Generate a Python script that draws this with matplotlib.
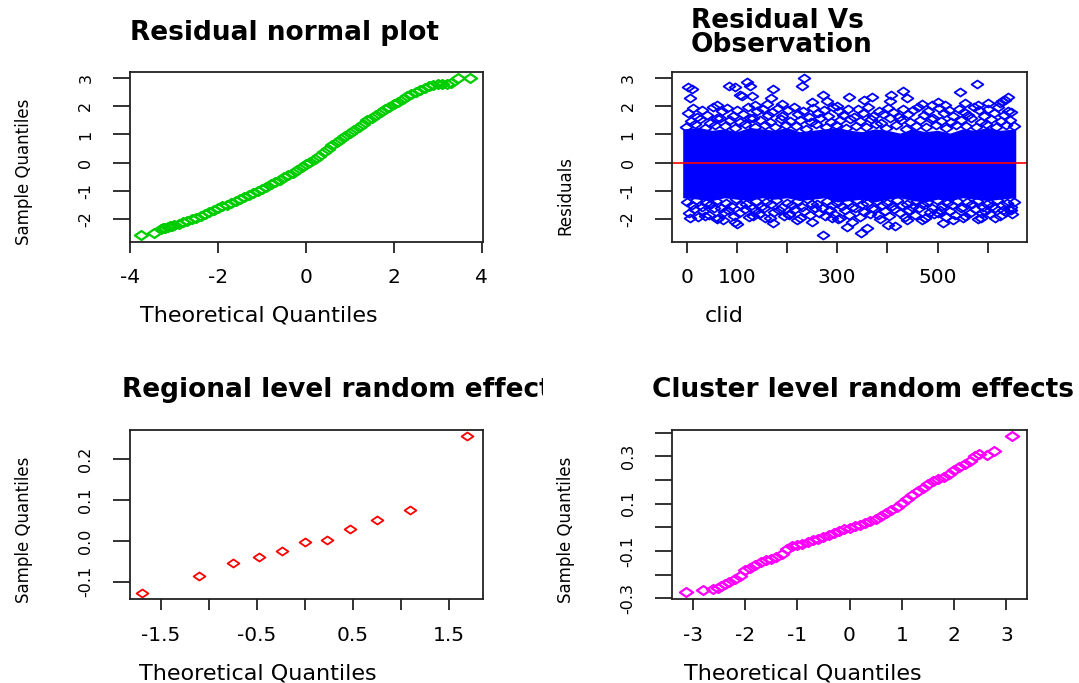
import matplotlib.pyplot as plt
from matplotlib.path import Path
from matplotlib.transforms import Bbox, TransformedBbox

plt.rcParams['font.family'] = 'DejaVu Sans'
plt.rcParams['axes.unicode_minus'] = False

# residual normal plot
q_res = [-3.75, -3.47, -3.30, -3.25, -3.20, -3.15, -3.10, -3.05, -3.00, -2.90, -2.80, -2.70, -2.60, -2.50,
         -2.40, -2.30, -2.20, -2.10, -2.00, -1.90, -1.80, -1.70, -1.60, -1.50, -1.40, -1.30, -1.20, -1.10,
         -1.00, -0.90, -0.80, -0.70, -0.60, -0.50, -0.40, -0.30, -0.20, -0.10, 0.00, 0.10, 0.20, 0.30,
         0.40, 0.50, 0.60, 0.70, 0.80, 0.90, 1.00, 1.10, 1.20, 1.30, 1.40, 1.50, 1.60, 1.70, 1.80, 1.90,
         2.00, 2.10, 2.20, 2.30, 2.40, 2.50, 2.60, 2.70, 2.80, 2.90, 3.00, 3.10, 3.20, 3.30, 3.45, 3.73]
s_res = [-2.56, -2.50, -2.36, -2.34, -2.31, -2.29, -2.26, -2.24, -2.22, -2.17, -2.11, -2.06, -2.00, -1.95,
         -1.89, -1.81, -1.74, -1.68, -1.62, -1.55, -1.49, -1.42, -1.36, -1.29, -1.22, -1.15, -1.09, -1.02,
         -0.94, -0.85, -0.76, -0.68, -0.60, -0.52, -0.44, -0.36, -0.26, -0.16, -0.06, 0.04, 0.13, 0.23,
         0.36, 0.48, 0.61, 0.72, 0.84, 0.95, 1.06, 1.17, 1.28, 1.39, 1.50, 1.60, 1.69, 1.79, 1.89, 1.98,
         2.08, 2.17, 2.26, 2.35, 2.43, 2.52, 2.59, 2.66, 2.71, 2.76, 2.78, 2.80, 2.81, 2.82, 2.99, 2.99]

# residual vs clid: dense core envelope
env_clid = [-8, 25, 50, 75, 100, 125, 150, 175, 200, 225, 250, 275, 300, 325, 350, 375, 400, 425, 450,
            475, 500, 525, 550, 575, 600, 625, 656]
env_hi = [1.20, 1.25, 1.15, 1.20, 1.10, 1.25, 1.20, 1.15, 1.25, 1.10, 1.15, 1.20, 1.25, 1.15, 1.10, 1.20,
          1.15, 1.05, 1.20, 1.10, 1.15, 1.05, 1.20, 1.15, 1.25, 1.15, 1.20]
env_lo = [-1.25, -1.30, -1.35, -1.25, -1.30, -1.35, -1.25, -1.30, -1.25, -1.35, -1.30, -1.25, -1.40, -1.35,
          -1.30, -1.40, -1.30, -1.25, -1.35, -1.40, -1.30, -1.35, -1.25, -1.30, -1.35, -1.30, -1.25]

# upper edge of the cloud
top_clid = [3, 12, 20, 30, 41, 52, 60, 71, 80, 92, 101, 113, 122, 133, 141, 152, 163, 171, 182, 190, 201,
            213, 222, 231, 243, 252, 261, 273, 282, 291, 303, 312, 321, 333, 342, 351, 362, 371, 383, 392,
            401, 411, 423, 432, 441, 452, 461, 473, 482, 491, 502, 513, 522, 531, 543, 552, 561, 572, 583,
            592, 601, 612, 621, 633, 641, 647]
top_res = [1.75, 1.95, 1.62, 1.88, 1.70, 1.98, 1.58, 1.82, 1.93, 1.66, 1.86, 1.72, 1.97, 1.60, 1.84, 1.90,
           1.68, 1.79, 1.95, 1.64, 1.88, 1.99, 1.73, 1.85, 1.62, 1.93, 1.78, 1.87, 1.66, 1.96, 1.83, 1.70,
           1.92, 1.61, 1.89, 1.76, 1.98, 1.67, 1.85, 1.72, 1.94, 1.80, 1.63, 1.91, 1.74, 1.87, 1.97, 1.69,
           1.83, 1.60, 1.95, 1.77, 1.88, 1.65, 1.92, 1.81, 1.71, 1.99, 1.86, 1.64, 1.90, 1.75, 1.96, 1.68,
           1.84, 1.79]
tmid_clid = [8, 27, 46, 66, 86, 106, 127, 147, 166, 187, 206, 226, 247, 266, 287, 306, 326, 346, 367, 387,
             406, 427, 446, 466, 487, 506, 526, 547, 566, 587, 606, 626, 645]
tmid_res = [1.48, 1.55, 1.42, 1.58, 1.50, 1.45, 1.57, 1.52, 1.44, 1.56, 1.49, 1.53, 1.46, 1.58, 1.43, 1.51,
            1.55, 1.47, 1.54, 1.42, 1.57, 1.50, 1.45, 1.53, 1.56, 1.48, 1.44, 1.52, 1.58, 1.46, 1.54, 1.49,
            1.51]
tin_clid = [-2, 17, 37, 56, 76, 96, 117, 137, 157, 177, 197, 217, 237, 257, 277, 297, 317, 337, 357, 377,
            397, 417, 437, 457, 477, 497, 517, 537, 557, 577, 597, 617, 637, 652]
tin_res = [1.28, 1.36, 1.24, 1.33, 1.30, 1.22, 1.38, 1.27, 1.32, 1.25, 1.35, 1.29, 1.21, 1.37, 1.26, 1.34,
           1.23, 1.31, 1.28, 1.36, 1.24, 1.33, 1.20, 1.30, 1.27, 1.35, 1.22, 1.32, 1.29, 1.25, 1.38, 1.26,
           1.34, 1.30]

# lower edge of the cloud
bot_clid = [5, 14, 23, 33, 44, 55, 63, 74, 83, 95, 104, 116, 125, 136, 144, 155, 166, 174, 185, 193, 204,
            216, 225, 234, 246, 255, 264, 276, 285, 294, 306, 315, 324, 336, 345, 354, 365, 374, 386, 395,
            404, 414, 426, 435, 444, 455, 464, 476, 485, 494, 505, 516, 525, 534, 546, 555, 564, 575, 586,
            595, 604, 615, 624, 636, 644, 649]
bot_res = [-1.78, -1.66, -1.92, -1.71, -1.85, -1.62, -1.96, -1.74, -1.68, -1.89, -1.80, -1.65, -1.93, -1.72,
           -1.84, -1.63, -1.98, -1.77, -1.69, -1.90, -1.82, -1.64, -1.95, -1.73, -1.87, -1.61, -1.79, -1.91,
           -1.67, -1.83, -1.97, -1.70, -1.86, -1.62, -1.94, -1.75, -1.81, -1.66, -1.99, -1.72, -1.88, -1.64,
           -1.79, -1.92, -1.68, -1.85, -1.60, -1.96, -1.74, -1.83, -1.67, -1.93, -1.71, -1.87, -1.63, -1.90,
           -1.78, -1.65, -1.97, -1.73, -1.84, -1.61, -1.89, -1.76, -1.69, -1.82]
bmid_clid = [10, 30, 49, 69, 89, 109, 130, 150, 169, 190, 209, 229, 250, 269, 290, 309, 329, 349, 370, 390,
             409, 430, 449, 469, 490, 509, 529, 550, 569, 590, 609, 629, 646]
bmid_res = [-1.52, -1.58, -1.47, -1.61, -1.55, -1.49, -1.60, -1.53, -1.46, -1.59, -1.51, -1.56, -1.48, -1.62,
            -1.50, -1.54, -1.57, -1.47, -1.60, -1.52, -1.55, -1.49, -1.58, -1.46, -1.61, -1.53, -1.50, -1.57,
            -1.48, -1.59, -1.54, -1.51, -1.56]
bin_clid = [0, 19, 39, 58, 78, 99, 119, 139, 159, 179, 199, 219, 239, 259, 279, 299, 319, 339, 359, 379,
            399, 419, 439, 459, 479, 499, 519, 539, 559, 579, 599, 619, 639, 653]
bin_res = [-1.40, -1.33, -1.45, -1.37, -1.42, -1.30, -1.47, -1.36, -1.41, -1.34, -1.44, -1.38, -1.31, -1.46,
           -1.35, -1.43, -1.39, -1.32, -1.45, -1.37, -1.42, -1.34, -1.48, -1.36, -1.40, -1.33, -1.44, -1.38,
           -1.41, -1.35, -1.46, -1.32, -1.43, -1.39]

# single outlying points
out_clid = [2, 10, 7, 84, 97, 121, 111, 131, 136, 106, 126, 172, 169, 234, 229, 272, 279, 323, 353, 369,
            408, 405, 432, 439, 515, 545, 555, 579, 581, 600, 624, 634, 641, 628, 60, 160, 190, 250, 300,
            470, 490, 500,
            7, 36, 73, 97, 100, 133, 156, 172, 203, 249, 272, 289, 319, 347, 359, 402, 415, 470, 475, 511,
            551, 588, 615, 630, 647, 382, 501, 302, 440, 60, 220, 330, 530, 580]
out_res = [2.70, 2.60, 2.30, 2.74, 2.69, 2.85, 2.38, 2.36, 2.06, 2.42, 2.71, 2.62, 2.30, 3.01, 2.74, 2.42,
           2.18, 2.33, 2.24, 2.33, 2.42, 2.18, 2.53, 2.30, 2.06, 2.51, 2.12, 2.78, 2.06, 2.12, 2.12, 2.24,
           2.33, 2.18, 2.05, 2.10, 2.08, 2.15, 2.02, 2.10, 2.05, 2.15,
           -1.97, -1.91, -2.05, -2.12, -2.17, -1.91, -1.97, -2.13, -1.85, -2.10, -2.56, -1.97, -2.29, -2.50,
           -2.32, -2.20, -2.26, -2.03, -1.97, -2.14, -1.97, -1.79, -1.97, -1.67, -1.70, -1.85, -1.79, -2.00,
           -2.05, -2.00, -2.05, -2.10, -2.05, -2.00]

# regional level random effects
q_reg = [-1.69, -1.10, -0.75, -0.47, -0.23, 0.00, 0.23, 0.47, 0.75, 1.10, 1.69]
s_reg = [-0.127, -0.087, -0.055, -0.040, -0.024, -0.002, 0.003, 0.029, 0.051, 0.075, 0.257]

# cluster level random effects
q_cl = [-3.13, -2.81, -2.61, -2.51, -2.45, -2.38, -2.30, -2.20, -2.10, -2.00, -1.90, -1.80, -1.70, -1.60,
        -1.50, -1.40, -1.30, -1.20, -1.10, -1.00, -0.90, -0.80, -0.70, -0.60, -0.50, -0.40, -0.30, -0.20,
        -0.10, 0.00, 0.10, 0.20, 0.30, 0.40, 0.50, 0.60, 0.70, 0.80, 0.90, 1.00, 1.10, 1.20, 1.30, 1.40,
        1.50, 1.60, 1.70, 1.80, 1.90, 2.00, 2.10, 2.20, 2.30, 2.40, 2.47, 2.62, 2.77, 3.10]
s_cl = [-0.274, -0.263, -0.262, -0.256, -0.248, -0.238, -0.230, -0.219, -0.204, -0.181, -0.170, -0.160,
        -0.148, -0.140, -0.133, -0.125, -0.112, -0.093, -0.081, -0.074, -0.069, -0.062, -0.055, -0.048,
        -0.040, -0.032, -0.024, -0.016, -0.009, -0.002, 0.005, 0.011, 0.017, 0.025, 0.034, 0.047, 0.059,
        0.072, 0.087, 0.103, 0.120, 0.138, 0.154, 0.168, 0.182, 0.196, 0.206, 0.214, 0.226, 0.240, 0.254,
        0.268, 0.279, 0.300, 0.310, 0.307, 0.324, 0.385]

W, H = 1079, 683
fig = plt.figure(figsize=(W / 100, H / 100), dpi=100)

def panel(l, t, r, b):
    return fig.add_axes([l / W, 1 - b / H, (r - l) / W, (b - t) / H])

def ftext(x, y, s, **kw):
    return fig.text(x / W, 1 - y / H, s, **kw)

def style(ax, xt, xl, yt, yl):
    for s in ax.spines.values():
        s.set_linewidth(1.3)
        s.set_color('#222222')
    ax.set_xticks(xt, xl)
    ax.set_yticks(yt, yl, rotation=90, va='center')
    ax.tick_params(axis='x', direction='out', length=8, width=1.3, pad=11, labelsize=14.5, color='#222222')
    ax.tick_params(axis='y', direction='out', length=12.4, width=1.3, pad=14, labelsize=11.5, color='#222222')

# wide R style diamond, pch=5
diamond = Path([(-1, 0), (0, 0.68), (1, 0), (0, -0.68), (-1, 0)], [1, 2, 2, 2, 79])
mk = dict(marker=diamond, ms=8.5, mfc='none', mew=1.3, ls='none')
mk_band = dict(marker=diamond, ms=9.5, mfc='none', mew=1.6, ls='none')

# top left
ax1 = panel(130, 72.3, 483, 241.7)
ax1.plot(q_res, s_res, color='#00CD00', **mk_band)
ax1.set_xlim(-4.005, 4.03)
ax1.set_ylim(-2.81, 3.21)
style(ax1, [-4, -2, 0, 2, 4], ['-4', '-2', '0', '2', '4'],
      [-2, -1, 0, 1, 2, 3], ['-2', '-1', '0', '1', '2', '3'])

# top right
ax2 = panel(672.3, 72.3, 1027.3, 241.7)
ax2.fill_between(env_clid, env_lo, env_hi, color='#0000FF', lw=0)
for xs, ys in [(tin_clid, tin_res), (tmid_clid, tmid_res), (top_clid, top_res),
               (bin_clid, bin_res), (bmid_clid, bmid_res), (bot_clid, bot_res), (out_clid, out_res)]:
    ax2.plot(xs, ys, color='#0000FF', **mk)
ax2.axhline(0, color='#FF0000', lw=1.2)
ax2.set_xlim(-28.7, 679)
ax2.set_ylim(-2.81, 3.21)
style(ax2, [0, 100, 200, 300, 400, 500, 600], ['0', '100', '', '300', '', '500', ''],
      [-2, -1, 0, 1, 2, 3], ['-2', '-1', '0', '1', '2', '3'])

# bottom left
ax3 = panel(130, 430, 483, 599.3)
ax3.plot(q_reg, s_reg, color='#FF0000', **mk)
ax3.set_xlim(-1.818, 1.859)
ax3.set_ylim(-0.143, 0.271)
style(ax3, [-1.5, -1.0, -0.5, 0.0, 0.5, 1.0, 1.5], ['-1.5', '', '-0.5', '', '0.5', '', '1.5'],
      [-0.1, 0.0, 0.1, 0.2], ['-0.1', '0.0', '0.1', '0.2'])

# bottom right
ax4 = panel(672.3, 430, 1027.3, 599.3)
ax4.plot(q_cl, s_cl, color='#FF00FF', **mk_band)
ax4.set_xlim(-3.39, 3.40)
ax4.set_ylim(-0.304, 0.411)
style(ax4, [-3, -2, -1, 0, 1, 2, 3], ['-3', '-2', '-1', '0', '1', '2', '3'],
      [-0.3, -0.2, -0.1, 0.0, 0.1, 0.2, 0.3, 0.4], ['-0.3', '', '-0.1', '', '0.1', '', '0.3', ''])

# titles
tb = dict(fontsize=19, fontweight='bold', va='baseline')
ftext(285, 40, 'Residual normal plot', ha='center', **tb)
ftext(691, 28.3, 'Residual Vs', ha='left', **tb)
ftext(691, 51.7, 'Observation', ha='left', **tb)
t3 = ftext(121.8, 397.3, 'Regional level random effects', ha='left', **tb)
t3.set_clip_box(TransformedBbox(Bbox([[0, 0], [543 / W, 1]]), fig.transFigure))
t3.set_clip_on(True)
ftext(1074, 397.3, 'Cluster level random effects', ha='right', **tb)

# axis labels
ftext(258.8, 321.5, 'Theoretical Quantiles', ha='center', va='baseline', fontsize=16)
ftext(724, 321.5, 'clid', ha='center', va='baseline', fontsize=16)
ftext(257.6, 680, 'Theoretical Quantiles', ha='center', va='baseline', fontsize=16)
ftext(802.4, 680, 'Theoretical Quantiles', ha='center', va='baseline', fontsize=16)
yl = dict(rotation=90, ha='center', va='center', fontsize=12)
ftext(23.7, 172, 'Sample Quantiles', **yl)
ftext(565.7, 195.8, 'Residuals', **yl)
ftext(23.7, 530, 'Sample Quantiles', **yl)
ftext(565.7, 530, 'Sample Quantiles', **yl)

fig.savefig('out.png', dpi=100)
